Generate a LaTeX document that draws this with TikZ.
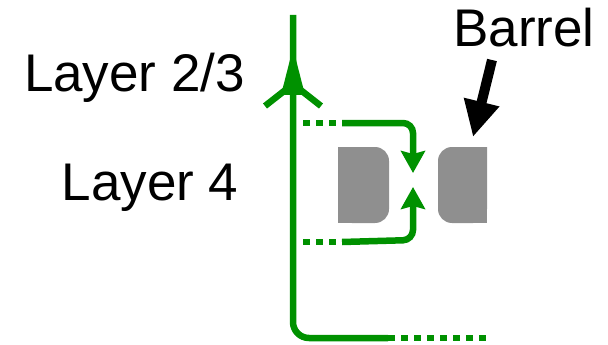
\documentclass[tikz,border=0pt]{standalone}
\usepackage{fontspec}
\setmainfont{Liberation Sans}
\usetikzlibrary{arrows.meta}
\definecolor{axgreen}{RGB}{0,145,0}
\definecolor{barrelgrey}{RGB}{143,143,143}
\tikzset{
  axon/.style={draw=axgreen, line width=6.5pt},
  dotted axon/.style={draw=axgreen, line width=6.5pt, dash pattern=on 6.5pt off 6.5pt},
  greentip/.style={-{Stealth[length=22pt,width=24pt,inset=3pt]}},
  barrelbox/.style={fill=barrelgrey},
  label/.style={font=\fontsize{53}{53}\selectfont, anchor=base, inner sep=0pt},
}
\begin{document}
\begin{tikzpicture}[x=1pt,y=-1pt]
\useasboundingbox (0,0) rectangle (608,345);
% text
\node[label] (l23) at (134.5,92) {Layer 2/3};
\node[label] (l4) at (150,200) {Layer 4};
\node[label] (barrel) at (524,47) {Barrel};
% barrel boxes
\fill[barrelgrey, rounded corners=14pt] (338,147) -- (389,147) -- (389,223) -- (338,223) [sharp corners] -- cycle;
\fill[barrelgrey] (338,147) rectangle (360,223);
\fill[barrelgrey, rounded corners=14pt] (487,147) -- (438,147) -- (438,223) -- (487,223) [sharp corners] -- cycle;
\fill[barrelgrey] (465,147) rectangle (487,223);
% coordinates
\coordinate (top) at (293,15);
\coordinate (corner) at (293,338);
\coordinate (botsolid) at (388,338);
\coordinate (botend) at (488,338);
\coordinate (ustart) at (303,123);
\coordinate (usolid) at (342,123);
\coordinate (ucorner) at (413,123);
\coordinate (utip) at (413,173);
\coordinate (lstart) at (303,242);
\coordinate (lsolid) at (342,242);
\coordinate (lcorner) at (413,240);
\coordinate (ltip) at (413,187);
\coordinate (barrelfrom) at (492,60);
\coordinate (barrelto) at (473,137);
% main axon
\draw[axon, rounded corners=16pt] (botsolid) -- (corner) -- (top);
\draw[dotted axon] (botsolid) -- (botend);
% arrow head on main axon
\fill[axgreen] (293,48) -- (281,95) -- (305,95) -- cycle;
\draw[axon] (265,106) -- (293,84) -- (321,106);
% branches
\draw[dotted axon] (ustart) -- (usolid);
\draw[axon, rounded corners=10pt, greentip] (usolid) -- (ucorner) -- (utip);
\draw[dotted axon] (lstart) -- (lsolid);
\draw[axon, rounded corners=10pt, greentip] (lsolid) -- (lcorner) -- (ltip);
% barrel arrow
\draw[line width=10pt, -{Triangle[length=36pt,width=34pt]}] (barrelfrom) -- (barrelto);
\end{tikzpicture}
\end{document}
